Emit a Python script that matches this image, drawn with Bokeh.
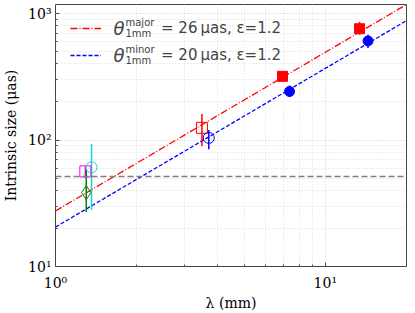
from bokeh.plotting import figure
from bokeh.models import (Span, Label, Legend, LegendItem, FixedTicker,
                          CustomJSTickFormatter)
from bokeh.embed import file_html
from bokeh.resources import INLINE

# ---- data ----
line_x = [1.0, 20.0]
major_y = [27.5, 1180.0]
minor_y = [20.5, 880.0]
hline_y = 51.5

# filled red squares (major)
rf_x = [6.94, 13.4]
rf_y = [319, 759]
rf_lo = [300, 679]
rf_hi = [338, 863]
# filled blue circles (minor)
bf_x = [7.37, 14.4]
bf_y = [242, 608]
bf_lo = [221, 535]
bf_hi = [270, 679]
# open red square
ro_x = [3.49]; ro_y = [125]; ro_lo = [89.5]; ro_hi = [161]
# open blue circle
bo_x = [3.70]; bo_y = [104]; bo_lo = [84.7]; bo_hi = [120]
# magenta open square
ms_x = [1.29]; ms_y = [56.5]; ms_lo = [50]; ms_hi = [62]
# cyan open circle
cc_x = [1.36]; cc_y = [60.8]; cc_lo = [28]; cc_hi = [93]
# green open diamond
gd_x = [1.30]; gd_y = [38.4]; gd_lo = [27]; gd_hi = [58.6]

x_major_ticks = [1, 10]
x_minor_ticks = [2, 3, 4, 5, 6, 7, 8, 9, 20]
y_major_ticks = [10, 100, 1000]
y_minor_ticks = [20, 30, 40, 50, 60, 70, 80, 90, 200, 300, 400, 500, 600, 700, 800, 900]

legend_labels = ["= 26\u2009μas, ε=1.2", "= 20\u2009μas, ε=1.2"]
legend_sups = ["major", "minor"]

SERIF = "DejaVu Serif"
SANS = "DejaVu Sans"
FW, FH = 351, 262

p = figure(x_axis_type="log", y_axis_type="log", x_range=(1, 20), y_range=(10, 1180),
           frame_width=FW, frame_height=FH, min_border_left=50, min_border_right=4,
           min_border_top=4, min_border_bottom=39,
           output_backend="svg", toolbar_location=None)

p.outline_line_color = "#444444"
p.outline_line_width = 1
p.background_fill_color = "white"

fmt = CustomJSTickFormatter(code="""
const e = Math.round(Math.log10(tick));
const sup = {'0':'\u2070','1':'\u00b9','2':'\u00b2','3':'\u00b3','4':'\u2074','-':'\u207b'};
return '10' + String(e).split('').map(c => sup[c]).join('');
""")

for ax, mt, mn in ((p.xaxis[0], x_major_ticks, x_minor_ticks), (p.yaxis[0], y_major_ticks, y_minor_ticks)):
    ax.ticker = FixedTicker(ticks=mt, minor_ticks=mn)
    ax.formatter = fmt
    ax.axis_line_color = None
    ax.major_tick_in = 4
    ax.major_tick_out = 0
    ax.minor_tick_in = 2
    ax.minor_tick_out = 0
    ax.major_tick_line_color = "#444444"
    ax.minor_tick_line_color = "#444444"
    ax.major_label_text_font = SERIF
    ax.major_label_text_font_size = "14px"
    ax.major_label_text_color = "black"
    ax.axis_label_text_font = SERIF
    ax.axis_label_text_font_size = "14px"
    ax.axis_label_text_font_style = "normal"
    ax.axis_label_text_color = "black"

p.xaxis.axis_label = "λ (mm)"
p.yaxis.axis_label = "Intrinsic size (μas)"
p.xaxis.major_label_standoff = 8
p.xaxis.axis_label_standoff = 1
p.yaxis.major_label_standoff = 4
p.yaxis.axis_label_standoff = 6

for g in (p.xgrid[0], p.ygrid[0]):
    g.grid_line_color = "#cccccc"
    g.grid_line_dash = "1 2"
    g.minor_grid_line_color = "#dddddd"
    g.minor_grid_line_dash = "1 2"

# model lines
r_major = p.line(line_x, major_y, line_color="red", line_width=1.3, line_dash="7 2 1 2")
r_minor = p.line(line_x, minor_y, line_color="blue", line_width=1.3, line_dash="4 2")

p.add_layout(Span(location=hline_y, dimension="width", line_color="gray",
                  line_width=1.5, line_dash="6 3"))

# error bars
def ebar(x, lo, hi, color, w=1.5):
    p.segment(x0=x, y0=lo, x1=x, y1=hi, line_color=color, line_width=w)

ebar(rf_x, rf_lo, rf_hi, "red")
ebar(bf_x, bf_lo, bf_hi, "blue")
ebar(ro_x, ro_lo, ro_hi, "red")
ebar(bo_x, bo_lo, bo_hi, "blue")
ebar(ms_x, ms_lo, ms_hi, "magenta")
ebar(cc_x, cc_lo, cc_hi, "#22cccc")
ebar(gd_x, gd_lo, gd_hi, "green")

p.scatter(rf_x, rf_y, marker="square", size=10, fill_color="red", line_color="red")
p.scatter(bf_x, bf_y, marker="circle", size=10, fill_color="blue", line_color="blue")
p.scatter(ro_x, ro_y, marker="square", size=11, fill_color=None, line_color="red", line_width=1)
p.scatter(bo_x, bo_y, marker="circle", size=11, fill_color=None, line_color="blue", line_width=1)
p.scatter(ms_x, ms_y, marker="square", size=11, fill_color=None, line_color="magenta", line_width=1)
p.scatter(cc_x, cc_y, marker="circle", size=11, fill_color=None, line_color="#22cccc", line_width=1)
p.scatter(gd_x, gd_y, marker="diamond", size=14, fill_color=None, line_color="green", line_width=1)

# legend: glyph samples + text
top_off = 24  # centre of first row below frame top
legend = Legend(items=[LegendItem(label=legend_labels[0], renderers=[r_major]),
                       LegendItem(label=legend_labels[1], renderers=[r_minor])],
                location=(15, FH - top_off - 37), glyph_width=31, glyph_height=20,
                label_height=20, spacing=7, padding=0, margin=0, label_standoff=60,
                label_text_font=SANS, label_text_font_size="15px",
                border_line_alpha=0, background_fill_alpha=0)
p.add_layout(legend)

for i, sup in enumerate(legend_sups):
    yb = FH - top_off - 27 * i  # row centre (from frame bottom)
    p.add_layout(Label(x=58, y=yb, x_units="screen", y_units="screen", text="θ",
                       text_font=SANS, text_font_style="italic", text_font_size="18px",
                       text_baseline="middle", text_align="left"))
    p.add_layout(Label(x=70, y=yb + 6, x_units="screen", y_units="screen", text=sup,
                       text_font=SANS, text_font_size="10px",
                       text_baseline="middle", text_align="left"))
    p.add_layout(Label(x=70, y=yb - 5, x_units="screen", y_units="screen", text="1mm",
                       text_font=SANS, text_font_size="10px",
                       text_baseline="middle", text_align="left"))

open("out.html", "w").write(file_html(p, INLINE))
